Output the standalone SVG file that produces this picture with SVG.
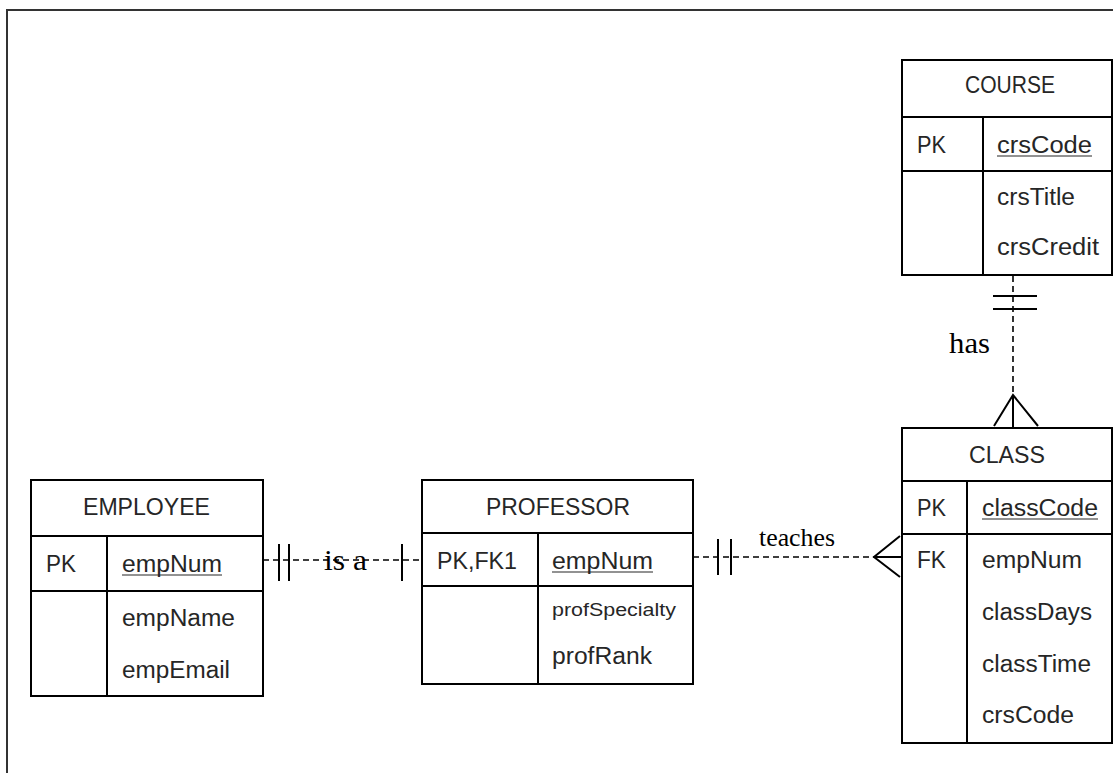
<svg xmlns="http://www.w3.org/2000/svg" width="1113" height="773" viewBox="0 0 1113 773">
  <style>
    .box { fill: #fff; stroke: #000; stroke-width: 2; }
    .sep { stroke: #000; stroke-width: 2; }
    .t { font-family: "Liberation Sans", Arial, sans-serif; font-size: 23px; fill: #262626; }
    .ts { font-family: "Liberation Sans", Arial, sans-serif; font-size: 17.5px; fill: #262626; }
    .ul { stroke: #262626; stroke-width: 1.2; }
    .lbl { font-family: "Liberation Serif", "Times New Roman", serif; fill: #000; }
    .rel { stroke: #000; stroke-width: 1.6; stroke-dasharray: 6 4; fill: none; }
    .mk { stroke: #000; stroke-width: 2; fill: none; }
  </style>

  <!-- page frame -->
  <rect x="7" y="10" width="1130" height="790" fill="none" stroke="#333" stroke-width="2"/>

  <!-- COURSE -->
  <g id="course">
    <rect class="box" x="902" y="60" width="210" height="215"/>
    <line class="sep" x1="902" y1="117" x2="1112" y2="117"/>
    <line class="sep" x1="902" y1="171" x2="1112" y2="171"/>
    <line class="sep" x1="983" y1="117" x2="983" y2="275"/>
    <text class="t" x="965" y="93" textLength="90" lengthAdjust="spacingAndGlyphs">COURSE</text>
    <text class="t" x="917" y="153" textLength="29" lengthAdjust="spacingAndGlyphs">PK</text>
    <text class="t" x="997" y="153" textLength="95" lengthAdjust="spacingAndGlyphs">crsCode</text>
    <line class="ul" x1="997" y1="156" x2="1092" y2="156"/>
    <text class="t" x="997" y="205" textLength="78" lengthAdjust="spacingAndGlyphs">crsTitle</text>
    <text class="t" x="997" y="255" textLength="102" lengthAdjust="spacingAndGlyphs">crsCredit</text>
  </g>

  <!-- CLASS -->
  <g id="class">
    <rect class="box" x="902" y="428" width="210" height="315"/>
    <line class="sep" x1="902" y1="481" x2="1112" y2="481"/>
    <line class="sep" x1="902" y1="534" x2="1112" y2="534"/>
    <line class="sep" x1="967" y1="481" x2="967" y2="743"/>
    <text class="t" x="969" y="463" textLength="76" lengthAdjust="spacingAndGlyphs">CLASS</text>
    <text class="t" x="917" y="516" textLength="29" lengthAdjust="spacingAndGlyphs">PK</text>
    <text class="t" x="982" y="516" textLength="116" lengthAdjust="spacingAndGlyphs">classCode</text>
    <line class="ul" x1="982" y1="519" x2="1098" y2="519"/>
    <text class="t" x="917" y="568" textLength="29" lengthAdjust="spacingAndGlyphs">FK</text>
    <text class="t" x="982" y="568" textLength="100" lengthAdjust="spacingAndGlyphs">empNum</text>
    <text class="t" x="982" y="620" textLength="110" lengthAdjust="spacingAndGlyphs">classDays</text>
    <text class="t" x="982" y="672" textLength="109" lengthAdjust="spacingAndGlyphs">classTime</text>
    <text class="t" x="982" y="723" textLength="92" lengthAdjust="spacingAndGlyphs">crsCode</text>
  </g>

  <!-- EMPLOYEE -->
  <g id="employee">
    <rect class="box" x="31" y="480" width="232" height="216"/>
    <line class="sep" x1="31" y1="536" x2="263" y2="536"/>
    <line class="sep" x1="31" y1="591" x2="263" y2="591"/>
    <line class="sep" x1="107" y1="536" x2="107" y2="696"/>
    <text class="t" x="83" y="515" textLength="127" lengthAdjust="spacingAndGlyphs">EMPLOYEE</text>
    <text class="t" x="46" y="572" textLength="30" lengthAdjust="spacingAndGlyphs">PK</text>
    <text class="t" x="122" y="572" textLength="100" lengthAdjust="spacingAndGlyphs">empNum</text>
    <line class="ul" x1="122" y1="575" x2="222" y2="575"/>
    <text class="t" x="122" y="626" textLength="113" lengthAdjust="spacingAndGlyphs">empName</text>
    <text class="t" x="122" y="678" textLength="108" lengthAdjust="spacingAndGlyphs">empEmail</text>
  </g>

  <!-- PROFESSOR -->
  <g id="professor">
    <rect class="box" x="422" y="480" width="271" height="204"/>
    <line class="sep" x1="422" y1="533" x2="693" y2="533"/>
    <line class="sep" x1="422" y1="586" x2="693" y2="586"/>
    <line class="sep" x1="538" y1="533" x2="538" y2="684"/>
    <text class="t" x="486" y="515" textLength="144" lengthAdjust="spacingAndGlyphs">PROFESSOR</text>
    <text class="t" x="437" y="569" textLength="80" lengthAdjust="spacingAndGlyphs">PK,FK1</text>
    <text class="t" x="552" y="569" textLength="101" lengthAdjust="spacingAndGlyphs">empNum</text>
    <line class="ul" x1="552" y1="572" x2="653" y2="572"/>
    <text class="ts" x="552" y="616" textLength="124" lengthAdjust="spacingAndGlyphs">profSpecialty</text>
    <text class="t" x="552" y="664" textLength="100" lengthAdjust="spacingAndGlyphs">profRank</text>
  </g>

  <!-- relationships -->
  <g id="connectors">
    <!-- COURSE has CLASS : one-and-only-one to many -->
    <line class="rel" x1="1013" y1="276" x2="1013" y2="395"/>
    <line class="mk" x1="993" y1="296" x2="1037" y2="296"/>
    <line class="mk" x1="993" y1="309" x2="1037" y2="309"/>
    <path class="mk" d="M994,426 L1013,395 L1038,426 M1013,395 L1013,428"/>
    <text class="lbl" x="949" y="353" font-size="30" textLength="41" lengthAdjust="spacingAndGlyphs">has</text>

    <!-- EMPLOYEE is a PROFESSOR : one to one -->
    <line class="rel" x1="263" y1="560" x2="422" y2="560"/>
    <line class="mk" x1="279" y1="544" x2="279" y2="581"/>
    <line class="mk" x1="289" y1="544" x2="289" y2="581"/>
    <line class="mk" x1="402" y1="544" x2="402" y2="581"/>
    <text class="lbl" x="324" y="570" font-size="30" textLength="43" lengthAdjust="spacingAndGlyphs">is a</text>

    <!-- PROFESSOR teaches CLASS : one-and-only-one to many -->
    <line class="rel" x1="693" y1="557" x2="874" y2="557"/>
    <line class="mk" x1="718" y1="539" x2="718" y2="575"/>
    <line class="mk" x1="731" y1="539" x2="731" y2="575"/>
    <path class="mk" d="M900,536 L874,557 L900,577 M874,557 L902,557"/>
    <text class="lbl" x="759" y="546" font-size="26" textLength="76" lengthAdjust="spacingAndGlyphs">teaches</text>
  </g>
</svg>
